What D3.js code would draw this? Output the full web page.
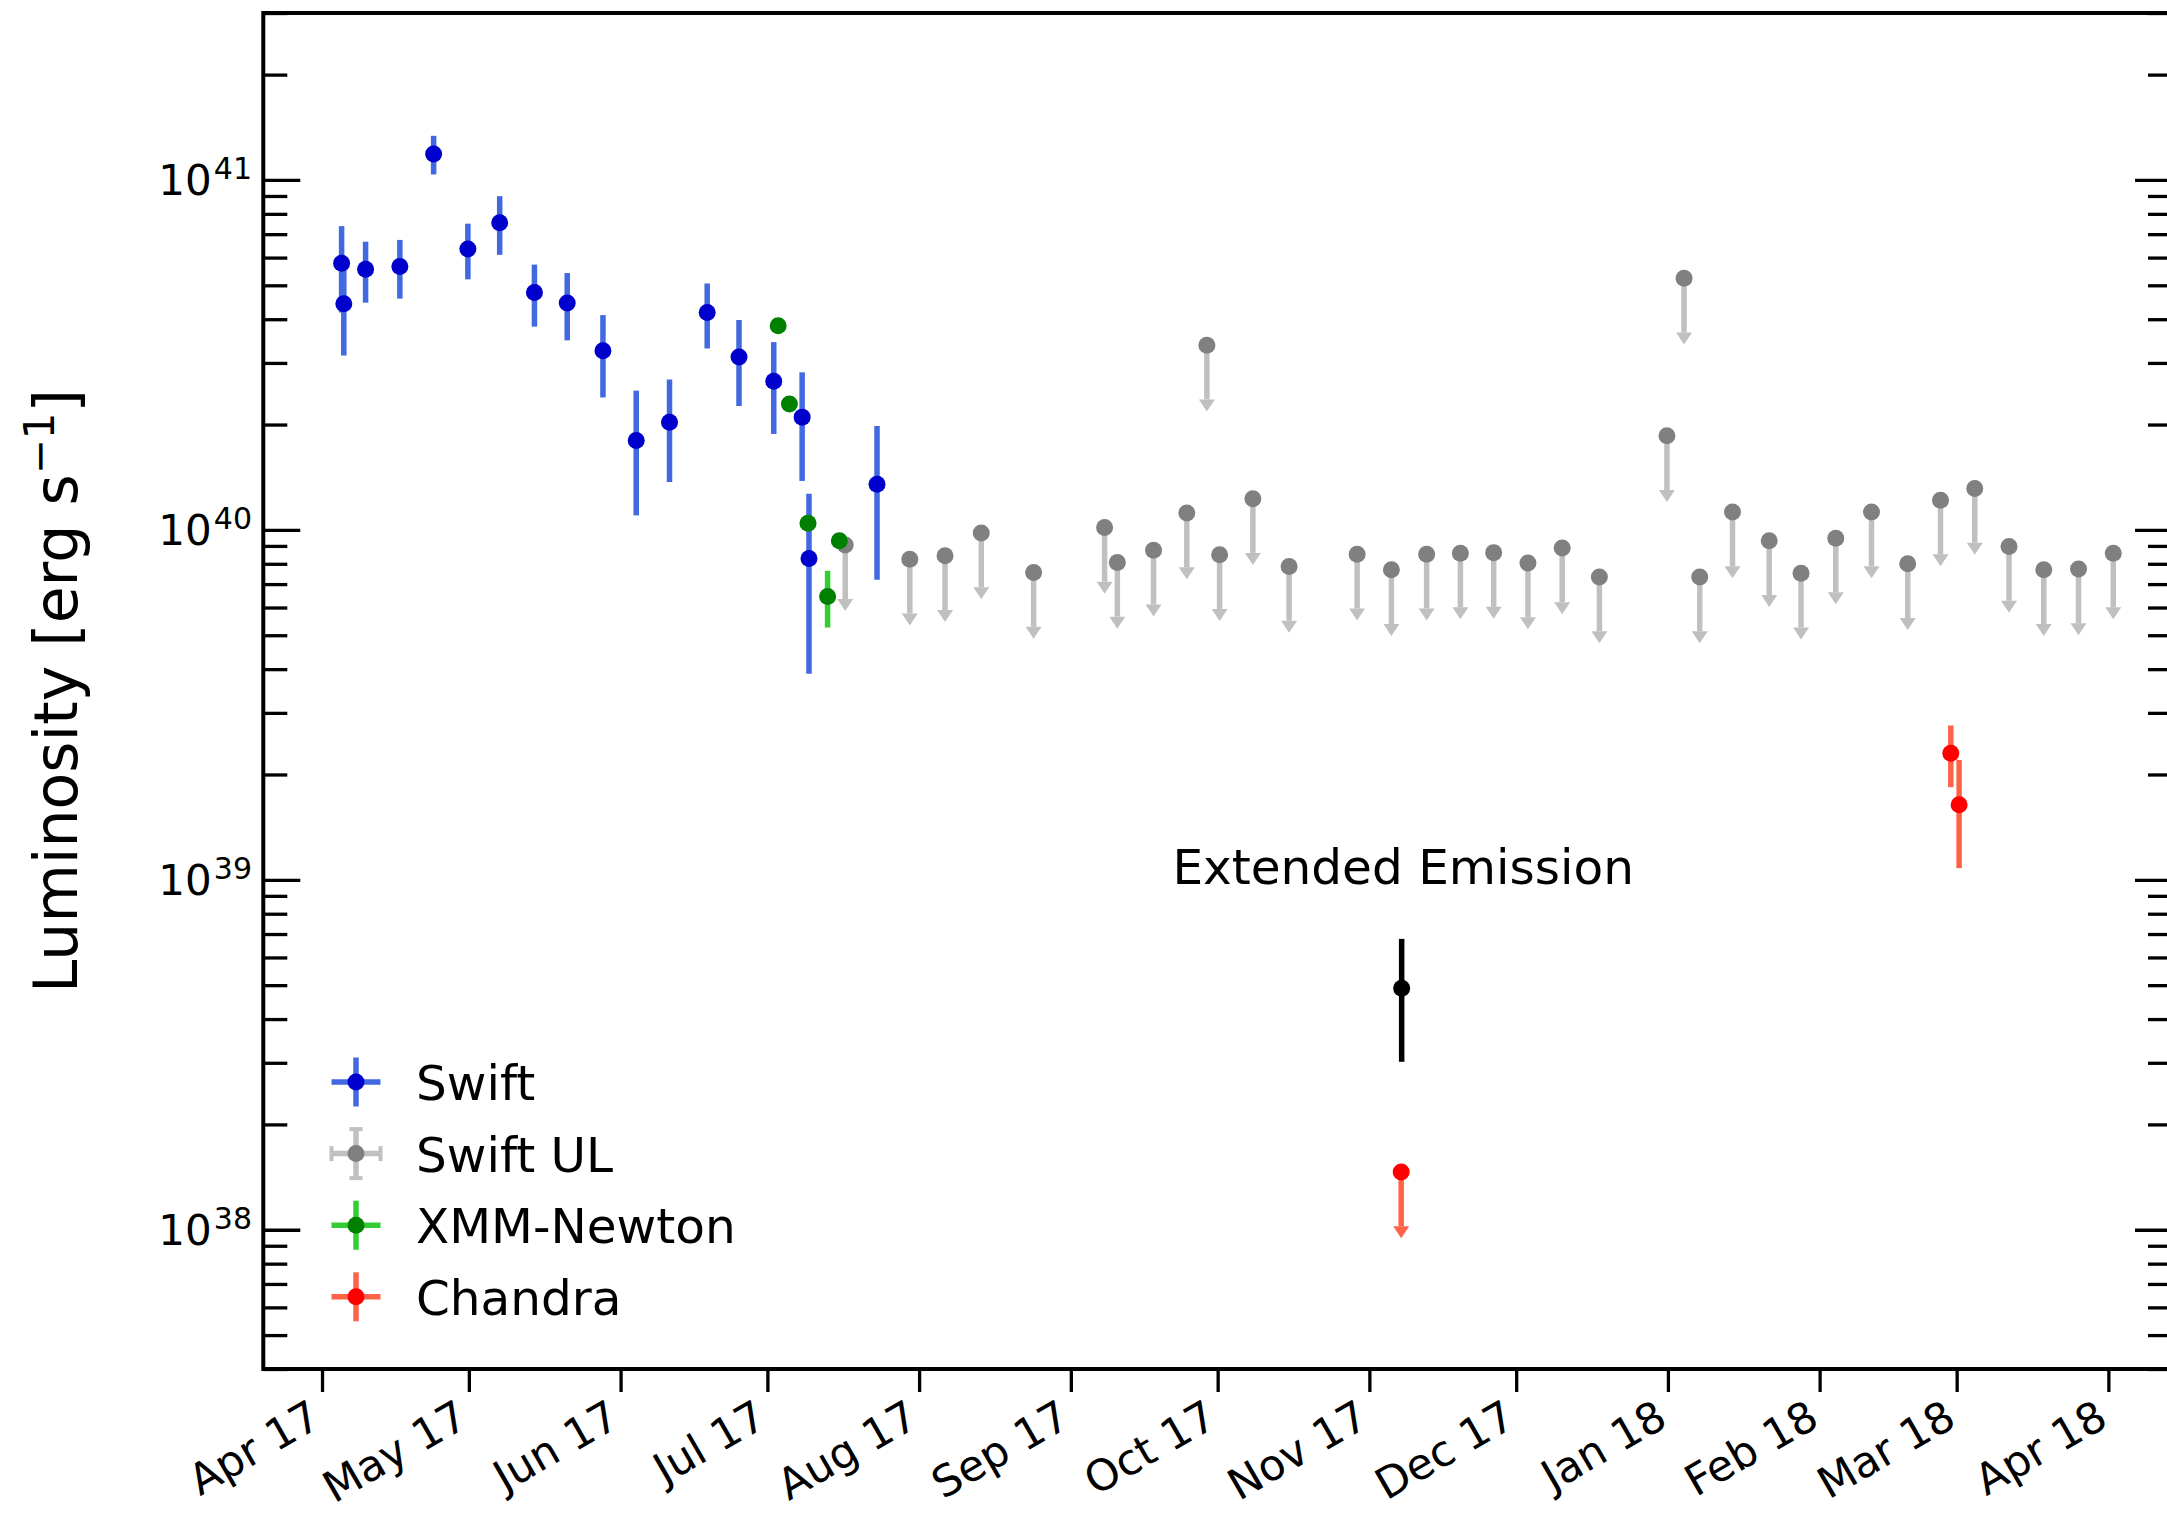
<!DOCTYPE html>
<html>
<head>
<meta charset="utf-8">
<script src="https://cdnjs.cloudflare.com/ajax/libs/d3/7.8.5/d3.min.js"></script>
<style>
  body { margin: 0; background: #fff; }
  svg { display: block; font-family: "DejaVu Sans", sans-serif; }
</style>
</head>
<body>
<div id="chart"></div>
<script>
// times in MJD, luminosities in erg/s
const swiftMjd = [57848.0, 57848.45, 57852.9, 57859.9, 57866.8, 57873.8, 57880.3, 57887.4, 57894.1,
  57901.4, 57908.2, 57915.0, 57922.7, 57929.2, 57936.3, 57942.1, 57943.5, 57957.4];
const swiftLum = [5.78e40, 4.43e40, 5.56e40, 5.66e40, 1.187e41, 6.35e40, 7.55e40, 4.77e40, 4.45e40,
  3.25e40, 1.8e40, 2.03e40, 4.18e40, 3.12e40, 2.66e40, 2.1e40, 8.28e39, 1.35e40];
const swiftErr = [1.6e40, 1.28e40, 1.1e40, 1.08e40, 1.5e40, 1.15e40, 1.44e40, 0.96e40, 0.97e40,
  0.86e40, 0.7e40, 0.66e40, 0.88e40, 0.86e40, 0.78e40, 0.72e40, 4.4e39, 6.3e39];

const ulMjd = [57950.9, 57964.1, 57971.3, 57978.7, 57989.4, 58003.9, 58006.5, 58013.9, 58020.7,
  58024.8, 58027.4, 58034.2, 58041.6, 58055.5, 58062.5, 58069.7, 58076.6, 58083.4, 58090.4, 58097.4,
  58105.0, 58118.8, 58122.3, 58125.5, 58132.2, 58139.7, 58146.2, 58153.3, 58160.6, 58168.0, 58174.7,
  58181.7, 58188.7, 58195.8, 58202.9, 58210.0];
const ulLum = [9.06e39, 8.24e39, 8.43e39, 9.79e39, 7.55e39, 1.016e40, 8.07e39, 8.74e39, 1.117e40,
  3.37e40, 8.49e39, 1.228e40, 7.86e39, 8.52e39, 7.69e39, 8.52e39, 8.58e39, 8.61e39, 8.04e39, 8.87e39,
  7.33e39, 1.857e40, 5.24e40, 7.33e39, 1.125e40, 9.31e39, 7.52e39, 9.47e39, 1.125e40, 8.0e39, 1.216e40,
  1.313e40, 8.96e39, 7.69e39, 7.73e39, 8.58e39];

const xmmMjd = [57937.2, 57939.5, 57943.3, 57947.3, 57949.7];
const xmmLum = [3.83e40, 2.29e40, 1.045e40, 6.45e39, 9.31e39];
const xmmErr = [1.0e39, 6e38, 3e38, 1.19e39, 2.5e38];

const chandraMjd = [58176.8, 58178.5];
const chandraLum = [2.3e39, 1.64e39];
const chandraErr = [0.46e39, 0.56e39];
const chandraUlMjd = [58064.5];
const chandraUlLum = [1.462e38];

const extMjd = [58064.6];
const extLum = [4.9e38];
const extErr = [1.88e38];
const extLabel = { mjd: 58064.6, lum: 9.7e38, text: "Extended Emission" };

const xLimMjd = [57832, 58222];
const yLim = [4e37, 3e41];
const yMajor = [1e38, 1e39, 1e40, 1e41];
const ulFrac = 0.7; // arrow base for upper limits

const legendItems = [
  { label: "Swift", marker: "#0000cd", bar: "#4169e1", caps: false },
  { label: "Swift UL", marker: "#808080", bar: "#c0c0c0", caps: true },
  { label: "XMM-Newton", marker: "#008000", bar: "#32cd32", caps: false },
  { label: "Chandra", marker: "#ff0000", bar: "#ff6347", caps: false }
];

function mjdToDate(m) { return new Date((m - 40587) * 86400000); }

const W = 2167, H = 1513;
const plot = { left: 263.3, right: 2172, top: 13, bottom: 1369 };

const svg = d3.select("#chart").append("svg").attr("width", W).attr("height", H);

const x = d3.scaleUtc().domain(xLimMjd.map(mjdToDate)).range([plot.left, plot.right]);
const y = d3.scaleLog().domain(yLim).range([plot.bottom, plot.top]);

let yMinor = [];
for (let e = 37; e <= 41; e++) {
  for (let k = 2; k <= 9; k++) {
    const v = k * Math.pow(10, e);
    if (v >= yLim[0] && v <= yLim[1]) yMinor.push(v);
  }
}

// axes
function styleTicks(g) {
  g.select(".domain").remove();
  g.selectAll(".tick line").attr("stroke", "#000").attr("stroke-width", 3.3);
}

svg.append("g")
  .attr("transform", "translate(0," + plot.bottom + ")")
  .call(d3.axisBottom(x).ticks(d3.utcMonth.every(1)).tickFormat(d3.utcFormat("%b %y"))
    .tickSizeInner(23).tickSizeOuter(0))
  .call(styleTicks)
  .call(g => g.selectAll(".tick text")
    .attr("x", 0).attr("y", 0).attr("dy", null)
    .attr("transform", "translate(1,56) rotate(-30)")
    .attr("text-anchor", "end")
    .attr("font-size", 43)
    .attr("font-family", "DejaVu Sans")
    .attr("fill", "#000"));

[[d3.axisLeft, plot.left], [d3.axisRight, plot.right]].forEach(function (a) {
  svg.append("g")
    .attr("transform", "translate(" + a[1] + ",0)")
    .call(a[0](y).tickValues(yMinor).tickSizeInner(-24).tickSizeOuter(0).tickFormat(""))
    .call(styleTicks);
  svg.append("g")
    .attr("transform", "translate(" + a[1] + ",0)")
    .call(a[0](y).tickValues(yMajor).tickSizeInner(-37).tickSizeOuter(0).tickFormat(""))
    .call(styleTicks);
});

const yLabels = svg.append("g").selectAll("text").data(yMajor).join("text")
  .attr("x", 252)
  .attr("y", d => y(d) + 15)
  .attr("text-anchor", "end")
  .attr("font-size", 42)
  .text("10");
yLabels.append("tspan")
  .attr("dy", -16)
  .attr("dx", 2)
  .attr("font-size", 30)
  .text(d => Math.round(Math.log10(d)));

svg.append("rect")
  .attr("x", plot.left).attr("y", plot.top)
  .attr("width", plot.right - plot.left).attr("height", plot.bottom - plot.top)
  .attr("fill", "none").attr("stroke", "#000").attr("stroke-width", 4);

const yl = svg.append("text")
  .attr("transform", "translate(77," + (plot.top + plot.bottom) / 2 + ") rotate(-90)")
  .attr("text-anchor", "middle")
  .attr("font-size", 60)
  .text("Luminosity [erg s");
yl.append("tspan").attr("dy", -23).attr("font-size", 42).text("\u22121");
yl.append("tspan").attr("dy", 23).text("]");

// data layers
const R = 8.5, BW = 5.5;

function errSeries(mjd, lum, err, markerCol, barCol) {
  const rows = mjd.map((m, i) => ({ t: mjdToDate(m), v: lum[i], e: err[i] }));
  const g = svg.append("g");
  g.selectAll("line").data(rows).join("line")
    .attr("x1", d => x(d.t)).attr("x2", d => x(d.t))
    .attr("y1", d => y(Math.max(d.v - d.e, yLim[0]))).attr("y2", d => y(d.v + d.e))
    .attr("stroke", barCol).attr("stroke-width", BW);
  g.selectAll("circle").data(rows).join("circle")
    .attr("cx", d => x(d.t)).attr("cy", d => y(d.v)).attr("r", R)
    .attr("fill", markerCol);
}

function ulSeries(mjd, lum, markerCol, barCol) {
  const rows = mjd.map((m, i) => ({ t: mjdToDate(m), v: lum[i] }));
  const g = svg.append("g");
  g.selectAll("line").data(rows).join("line")
    .attr("x1", d => x(d.t)).attr("x2", d => x(d.t))
    .attr("y1", d => y(d.v)).attr("y2", d => y(d.v * ulFrac))
    .attr("stroke", barCol).attr("stroke-width", BW);
  g.selectAll("path").data(rows).join("path")
    .attr("d", function (d) {
      const cx = x(d.t), by = y(d.v * ulFrac);
      return "M" + (cx - 8) + "," + by + "L" + (cx + 8) + "," + by + "L" + cx + "," + (by + 12) + "Z";
    })
    .attr("fill", barCol);
  g.selectAll("circle").data(rows).join("circle")
    .attr("cx", d => x(d.t)).attr("cy", d => y(d.v)).attr("r", R)
    .attr("fill", markerCol);
}

errSeries(swiftMjd, swiftLum, swiftErr, "#0000cd", "#4169e1");
ulSeries(ulMjd, ulLum, "#808080", "#c0c0c0");
errSeries(xmmMjd, xmmLum, xmmErr, "#008000", "#32cd32");
errSeries(chandraMjd, chandraLum, chandraErr, "#ff0000", "#ff6347");
ulSeries(chandraUlMjd, chandraUlLum, "#ff0000", "#ff6347");
errSeries(extMjd, extLum, extErr, "#000000", "#000000");

svg.append("text")
  .attr("x", x(mjdToDate(extLabel.mjd)) + 1.5)
  .attr("y", y(extLabel.lum))
  .attr("text-anchor", "middle")
  .attr("font-size", 48.5)
  .text(extLabel.text);

// legend
const leg = svg.append("g").selectAll("g").data(legendItems).join("g")
  .attr("transform", (d, i) => "translate(356," + (1082 + i * 71.6) + ")");
leg.append("line").attr("x1", -24.5).attr("x2", 24.5)
  .attr("stroke", d => d.bar).attr("stroke-width", BW);
leg.append("line").attr("y1", -24.5).attr("y2", 24.5)
  .attr("stroke", d => d.bar).attr("stroke-width", BW);
leg.filter(d => d.caps).each(function (d) {
  const g = d3.select(this);
  [-24.5, 24.5].forEach(function (o) {
    g.append("line").attr("x1", o).attr("x2", o).attr("y1", -7.5).attr("y2", 7.5)
      .attr("stroke", d.bar).attr("stroke-width", 4);
    g.append("line").attr("y1", o).attr("y2", o).attr("x1", -6.5).attr("x2", 6.5)
      .attr("stroke", d.bar).attr("stroke-width", 4);
  });
});
leg.append("circle").attr("r", R).attr("fill", d => d.marker);
leg.append("text").attr("x", 60).attr("y", 18)
  .attr("font-size", 48.5)
  .text(d => d.label);
</script>
</body>
</html>
